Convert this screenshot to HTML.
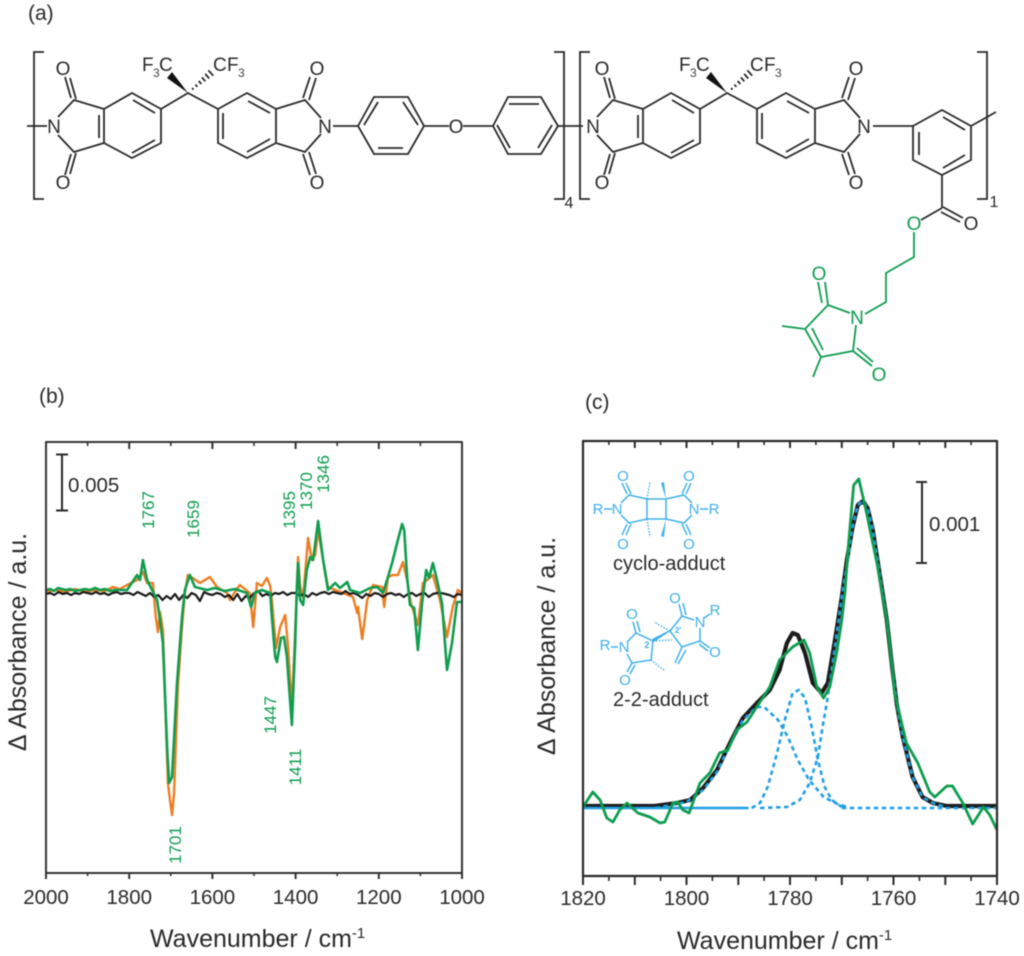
<!DOCTYPE html>
<html lang="en">
<head>
<meta charset="utf-8">
<title>Polyimide structure and difference IR spectra</title>
<style>
html,body{margin:0;padding:0;background:#fff;}
svg{display:block;font-family:"Liberation Sans",sans-serif;filter:blur(0.4px);}
.bond{fill:none;stroke:#2a2a2a;stroke-width:1.8;}
.gbond{fill:none;stroke:#0f9d4f;stroke-width:1.8;}
.bbond{fill:none;stroke:#3fb0e8;stroke-width:1.5;}
.atom{font-size:19px;fill:#2a2a2a;text-anchor:middle;}
.sub{font-size:12px;fill:#444;}
.gatom{font-size:19px;fill:#0f9d4f;text-anchor:middle;}
.batom{font-size:15px;fill:#3fb0e8;text-anchor:middle;}
.panel{font-size:21px;fill:#2a2a2a;}
.peak{font-size:17px;fill:#0f9d4f;text-anchor:middle;}
.tick-label{font-size:20.5px;fill:#2a2a2a;text-anchor:middle;}
.axis-title{font-size:25px;fill:#2a2a2a;}
.note{font-size:20px;fill:#2a2a2a;}
</style>
</head>
<body>
<svg id="figure" width="1024" height="956" viewBox="0 0 1024 956" xmlns="http://www.w3.org/2000/svg">
<rect width="1024" height="956" fill="#fff"/>

<text class="panel" x="28" y="20">(a)</text>
<text class="panel" x="39" y="403">(b)</text>
<text class="panel" x="585" y="409">(c)</text>

<g>
  <path class="bond" d="M44 52H34V199H44"/>
  <path class="bond" d="M27 126H47"/>
  <g>
    <path class="bond" d="M58 117L74 100L104 109M58 135L74 152L104 143M71 98L65 77M76 99L70 78M71 154L65 175M76 153L70 174
      M104 109L132 93L161 109V143L132 158L104 143ZM99 115V138M133 100L155 113M132 153L155 140
      M161 109L188 93L218 109M218 109L247 93L276 109V143L247 158L218 143ZM223 113V139M248 101L270 113M247 152L270 139
      M276 109L305 100L321 118M276 143L305 152L321 134M303 98L310 77M309 100L316 78M303 154L310 175M309 152L316 174"/>
    <polygon points="188,93 167,78 172,72" fill="#111"/>
    <path class="bond" stroke-width="1.2" d="M192.1 88L193.5 89.6M195.4 84.6L197.4 86.8M198.7 81L201.3 84M201.9 77.4L205.3 81.3M205.2 73.9L209.2 78.5M208.4 70.3L213.2 75.7"/>
    <text class="atom" x="63" y="75">O</text><text class="atom" x="63" y="189">O</text>
    <text class="atom" x="54" y="133">N</text>
    <text class="atom" x="317" y="75">O</text><text class="atom" x="317" y="189">O</text>
    <text class="atom" x="325" y="133">N</text>
  </g>
  <g transform="translate(539,0)">
    <path class="bond" d="M58 117L74 100L104 109M58 135L74 152L104 143M71 98L65 77M76 99L70 78M71 154L65 175M76 153L70 174
      M104 109L132 93L161 109V143L132 158L104 143ZM99 115V138M133 100L155 113M132 153L155 140
      M161 109L188 93L218 109M218 109L247 93L276 109V143L247 158L218 143ZM223 113V139M248 101L270 113M247 152L270 139
      M276 109L305 100L321 118M276 143L305 152L321 134M303 98L310 77M309 100L316 78M303 154L310 175M309 152L316 174"/>
    <polygon points="188,93 167,78 172,72" fill="#111"/>
    <path class="bond" stroke-width="1.2" d="M192.1 88L193.5 89.6M195.4 84.6L197.4 86.8M198.7 81L201.3 84M201.9 77.4L205.3 81.3M205.2 73.9L209.2 78.5M208.4 70.3L213.2 75.7"/>
    <text class="atom" x="63" y="75">O</text><text class="atom" x="63" y="189">O</text>
    <text class="atom" x="54" y="133">N</text>
    <text class="atom" x="317" y="75">O</text><text class="atom" x="317" y="189">O</text>
    <text class="atom" x="325" y="133">N</text>
  </g>
  <text class="atom" style="text-anchor:start" x="142" y="71">F</text><text class="sub" x="153" y="77">3</text><text class="atom" style="text-anchor:start" x="159" y="71">C</text>
  <text class="atom" style="text-anchor:start" x="213" y="71">C</text><text class="atom" style="text-anchor:start" x="227" y="71">F</text><text class="sub" x="238" y="77">3</text>
  <text class="atom" style="text-anchor:start" x="679" y="71">F</text><text class="sub" x="690" y="77">3</text><text class="atom" style="text-anchor:start" x="696" y="71">C</text>
  <text class="atom" style="text-anchor:start" x="750" y="71">C</text><text class="atom" style="text-anchor:start" x="764" y="71">F</text><text class="sub" x="775" y="77">3</text>

  <path class="bond" d="M333 126H358M358 126L374 97H408L424 126L408 154H374ZM364 125L378 102M403 102L418 125M378 148H403
     M424 126H449M463 126H493M493 126L508 97H541L558 126L541 154H508ZM509 104H539M497 125L510 148M552 125L538 148M558 126H583"/>
  <text class="atom" x="456" y="133">O</text>
  <path class="bond" d="M554 52H564V199H554"/>
  <text class="atom" x="569" y="208" style="font-size:16px">4</text>
  <path class="bond" d="M590 52H580V199H590"/>

  <path class="bond" d="M873 126H913M913 126L942 110L971 126V160L942 175L913 160ZM919 132V155M943 117L965 130M943 168L965 155M971 126L996 112
     M942 175V208M942 208L921 220M943 207L963 218M941 212L960 222"/>
  <path class="bond" d="M977 52H987V199H977"/>
  <text class="atom" x="994" y="207" style="font-size:16px">1</text>
  <text class="atom" x="971" y="230">O</text>

  <g>
    <path class="gbond" d="M914 232V257L886 273V302L865 314M850 313L828 305L805 329L821 357L853 351L856 325M818 282L822 303M825 282L828 305M812 328L823 350M805 329L782 326M821 357L813 377M853 351L872 366M857 348L873 362"/>
    <text class="gatom" x="914" y="230">O</text>
    <text class="gatom" x="857" y="324">N</text>
    <text class="gatom" x="819" y="280">O</text>
    <text class="gatom" x="879" y="381">O</text>
  </g>
</g>

<g id="panel-b"></g>
<g id="panel-c"></g>

<g>
  <text class="peak" transform="translate(154,510) rotate(-90)">1767</text>
  <text class="peak" transform="translate(199,519) rotate(-90)">1659</text>
  <text class="peak" transform="translate(181,845) rotate(-90)">1701</text>
  <text class="peak" transform="translate(276,715) rotate(-90)">1447</text>
  <text class="peak" transform="translate(301,767) rotate(-90)">1411</text>
  <text class="peak" transform="translate(295,510) rotate(-90)">1395</text>
  <text class="peak" transform="translate(312,491) rotate(-90)">1370</text>
  <text class="peak" transform="translate(329,474) rotate(-90)">1346</text>
</g>

<g>
  <path d="M56 454.500H68M62 454.500V510.500M56 510.500H68" fill="none" stroke="#2a2a2a" stroke-width="2"/>
  <text class="note" style="font-size:20.5px" x="68" y="492">0.005</text>
</g>
<g>
  <path d="M916 482H927M922 482V563M916 563H927" fill="none" stroke="#2a2a2a" stroke-width="2"/>
  <text class="note" style="font-size:20.5px" x="929" y="531">0.001</text>
</g>

<text class="axis-title" x="150" y="947">Wavenumber / cm<tspan font-size="15" dy="-9">-1</tspan></text>
<text class="axis-title" x="677" y="949">Wavenumber / cm<tspan font-size="15" dy="-9">-1</tspan></text>
<text class="axis-title" text-anchor="middle" transform="translate(26,642) rotate(-90)">Δ Absorbance / a.u.</text>
<text class="axis-title" text-anchor="middle" transform="translate(555,646) rotate(-90)">Δ Absorbance / a.u.</text>

<g>
  <path class="bbond" d="M647 499H666V519H647ZM647 499L629 495L621 503M647 519L629 523L621 515M627 494L622 483M631 494L626 483M627 524L622 535M631 524L626 535
    M666 499L684 495L692 503M666 519L684 523L692 515M682 494L687 483M686 494L691 483M682 524L687 535M686 524L691 535M604 509H612M700 509H708"/>
  <path class="bbond" stroke-dasharray="1.500 1.500" d="M647 499L650 482M647 519L650 537"/>
  <polygon points="666,499 661,483 664,482" fill="#3fb0e8"/>
  <polygon points="666,519 661,536 664,537" fill="#3fb0e8"/>
  <text class="batom" x="623" y="481">O</text><text class="batom" x="623" y="549">O</text>
  <text class="batom" x="689" y="481">O</text><text class="batom" x="689" y="549">O</text>
  <text class="batom" x="617" y="514">N</text><text class="batom" x="694" y="514">N</text>
  <text class="batom" x="598" y="514">R</text><text class="batom" x="714" y="514">R</text>
</g>
<text class="note" x="613" y="570">cyclo-adduct</text>

<g>
  <path class="bbond" d="M627 642L636 633L653 641L651 660L632 663L627 654M636 633L633 622M640 632L637 621M632 663L627 672M635 665L630 674M611 647H618
    M670 631L682 616L694 620M700 628V641L682 647L670 631M682 616L679 604M686 615L683 603M700 641L710 648M699 644L708 651M682 647L675 663M686 650L678 664M704 618L710 614"/>
  <path d="M653 642L671 630L653 639Z" fill="#3fb0e8" stroke="#3fb0e8" stroke-width="1"/>
  <path class="bbond" stroke-dasharray="1.500 1.500" d="M651 660L665 671M653 641L672 640M670 631L654 622"/>
  <text class="batom" x="632" y="619">O</text><text class="batom" x="625" y="685">O</text>
  <text class="batom" x="675" y="603">O</text><text class="batom" x="715" y="657">O</text>
  <text class="batom" x="624" y="652">N</text><text class="batom" x="700" y="627">N</text>
  <text class="batom" x="605" y="650">R</text><text class="batom" x="715" y="615">R</text>
  <text class="batom" style="font-size:9px;font-weight:bold" x="647" y="648">2</text>
  <text class="batom" style="font-size:8px;font-weight:bold" x="678" y="633">2'</text>
</g>
<text class="note" x="613" y="706">2-2-adduct</text>
</svg>

<script>
// Panel (b) axis data (wavenumber in cm-1; amplitudes in a.u., 56 a.u. = 0.005 scale bar)
const bMajorTicks = [2000,1800,1600,1400,1200,1000];
const bMinorTicks = [1900,1700,1500,1300,1100];

const bOrangeWn = [2000,1978,1954,1930,1906,1882,1858,1839,1822,1805,1781,1767,1757,1743,1736,1731,1726,1719,1707,1702,1697,1692,1683,1673,1666,1659,1647,1630,1618,1606,1589,1565,1558,1546,1534,1510,1502,1493,1481,1469,1461,1457,1447,1437,1425,1418,1409,1401,1394,1389,1382,1370,1361,1353,1346,1334,1322,1286,1262,1252,1250,1240,1228,1214,1192,1187,1178,1166,1154,1142,1132,1123,1106,1094,1084,1070,1053,1036,1022,1010,1000];
const bOrangeVal = [0,2,0,3,0,2,1,5,3,7,12,20,9,9,-25,-40,-20,-38,-191,-208,-223,-201,-95,-35,-1,17,14,9,12,15,5,-1,-8,0,7,-1,-35,9,6,14,6,-8,-56,-35,-23,-55,-118,-38,35,5,-5,54,32,37,62,32,5,-1,-5,-21,-15,-47,-8,7,5,-15,15,17,17,30,12,-11,-33,9,12,17,-8,-45,-15,2,-1];

const bGreenWn = [2000,1990,1981,1971,1962,1952,1942,1930,1918,1906,1894,1882,1870,1858,1846,1834,1822,1805,1781,1774,1767,1757,1745,1733,1726,1719,1709,1704,1697,1685,1673,1666,1654,1642,1613,1594,1570,1546,1517,1507,1498,1481,1461,1457,1449,1445,1435,1428,1421,1409,1401,1397,1394,1389,1382,1373,1365,1358,1346,1334,1322,1305,1293,1276,1269,1245,1221,1204,1190,1178,1168,1156,1144,1139,1132,1125,1115,1106,1096,1086,1079,1070,1060,1048,1036,1024,1012,1000];
const bGreenVal = [2,3,1,4,3,2,3,1,2,3,2,4,2,3,1,2,2,2,17,12,32,12,2,-8,-28,-51,-155,-191,-185,-91,-25,2,17,5,2,4,1,3,-1,-15,-1,2,-1,-25,-65,-70,-46,-45,-65,-133,-51,2,29,-8,-13,22,35,32,71,32,2,9,4,10,2,-1,4,5,-1,15,29,49,68,62,15,-13,-16,-58,-11,22,14,29,12,-11,-78,-51,-10,-10];

const bBlackWn = [2000,1990,1980,1970,1960,1950,1940,1930,1920,1910,1900,1890,1880,1870,1860,1850,1840,1830,1820,1810,1800,1790,1780,1770,1760,1750,1740,1730,1720,1710,1700,1690,1680,1670,1660,1650,1640,1630,1620,1610,1600,1590,1580,1570,1560,1550,1540,1530,1520,1510,1500,1490,1480,1470,1460,1450,1440,1430,1420,1410,1400,1390,1380,1370,1360,1350,1340,1330,1320,1310,1300,1290,1280,1270,1260,1250,1240,1230,1220,1210,1200,1190,1180,1170,1160,1150,1140,1130,1120,1110,1100,1090,1080,1070,1060,1050,1040,1030,1020,1010,1000];
const bBlackVal = [-2,-1,-3,0,-2,-1,-3,-1,-2,0,-1,-2,0,-2,-1,-3,-1,0,-2,-1,-1,-3,0,-2,-4,-1,-5,-3,-8,-4,-7,-2,-8,-3,-6,-1,-3,-9,0,-2,-3,-1,-2,-5,-3,-8,-2,-9,-4,-6,-1,1,-4,-2,-4,-1,-2,0,-3,-1,-1,-4,-2,-5,-1,-3,-1,0,-2,0,-1,-2,1,-2,-1,-3,-6,-2,-4,-1,-2,-5,-2,-1,-3,-2,-5,-2,-1,-4,-2,-1,-5,-2,-1,-1,-2,-3,-5,-2,-3];

// Panel (c) axis data (81 a.u. = 0.001 scale bar)
const cLabelTicks = [1820,1800,1780,1760,1740];
const cMidTicks = [1810,1790,1770,1750];
const cMinorTicks = [1815,1805,1795,1785,1775,1765,1755,1745];

const cMeasuredWn = [1820,1806.1,1801.9,1799.3,1796.8,1794.1,1791.6,1789.1,1786.4,1783.9,1782,1780.6,1779.5,1778.5,1777.1,1775.6,1773.9,1772.7,1771.4,1770,1769,1767.9,1766.9,1765.9,1765,1764,1762.7,1761.3,1760.2,1759.4,1758.2,1756.3,1754.4,1752.4,1749.7,1740];
const cMeasuredVal = [1,1,4,7,19,37,64,89,104,117,137,164,174,172,154,124,114,124,164,210,247,280,302,306,299,277,234,187,137,104,70,30,10,4,1,1];

const cGreenWn = [1820,1818.1,1816.7,1815.4,1814.2,1812.9,1811.5,1809.4,1807.1,1805.1,1804.2,1802.6,1801.7,1800.7,1799.5,1797.4,1795.5,1793.6,1792,1790.3,1788.3,1785.8,1783.9,1782,1779.5,1777.3,1776.2,1774.8,1773.5,1772.3,1771,1770,1769.4,1768.8,1767.7,1766.7,1765.2,1763.2,1761.3,1760.2,1759.8,1757.5,1755.3,1753,1752,1749.7,1748.6,1746.6,1744.7,1742.6,1741.4,1740];
const cGreenVal = [0,15,7,-11,-15,-3,4,-6,-10,-16,-15,4,5,-3,-6,24,34,54,57,77,85,105,120,147,160,167,154,120,109,120,154,187,214,257,322,328,294,244,187,137,114,64,44,15,10,21,21,4,-17,0,-8,-23];

const cBaselineWn = [1820,1788];
const cBaselineVal = [-1,-1];

const cTailWn = [1770,1740];
const cTailVal = [-1,-1];

const cBandOneWn = [1806,1800,1796.8,1794.1,1791.6,1789.1,1786.4,1785,1782.3,1780.4,1778.5,1776.3,1773.5,1770.8,1768.9];
const cBandOneVal = [-1,5,17,35,62,87,100,100,87,70,47,27,10,3,0];

const cBandTwoWn = [1787.4,1785.8,1784.3,1782.5,1781,1779.5,1778.3,1777.1,1775.8,1774.6,1773.3,1771.9,1770];
const cBandTwoVal = [-1,4,20,54,87,114,117,109,80,47,20,7,0];

const cBandThreeWn = [1785.8,1780.6,1778.1,1776.2,1774.6,1773.7,1772.7,1771.4,1770,1767.9,1766.9,1765.9,1765,1764,1762.7,1761.3,1760.2,1759.4,1758.2,1756.3,1754.4,1752.4,1750];
const cBandThreeVal = [-1,0,7,24,50,80,110,157,210,280,302,306,299,277,234,187,137,104,70,30,10,4,0];

// Axis functions
function xB(wn){ return 46 + (2000 - wn) * 0.416; }
function yB(v){ return 592 - v; }
function xC(wn){ return 583 + (1820 - wn) * 5.175; }
function yC(v){ return 807 - v; }

const SVGNS = 'http://www.w3.org/2000/svg';
const panelB = document.getElementById('panel-b');
const panelC = document.getElementById('panel-c');

function pathFrom(wn, val, fx, fy){
  let d = '';
  for (let i = 0; i < wn.length; i++) {
    d += (i ? 'L' : 'M') + fx(wn[i]).toFixed(1) + ' ' + fy(val[i]).toFixed(1);
  }
  return d;
}
function makePath(parent, d, stroke, width, dash){
  const p = document.createElementNS(SVGNS, 'path');
  p.setAttribute('d', d);
  p.setAttribute('fill', 'none');
  p.setAttribute('stroke', stroke);
  p.setAttribute('stroke-width', width);
  p.setAttribute('stroke-linejoin', 'round');
  if (dash) p.setAttribute('stroke-dasharray', dash);
  parent.appendChild(p);
  return p;
}
function tickPath(ticks, fx, top, bottom, lenTop, lenBottom){
  let d = '';
  ticks.forEach(function(t){
    const x = fx(t).toFixed(1);
    d += 'M' + x + ' ' + top + 'V' + (top + lenTop) + 'M' + x + ' ' + bottom + 'V' + (bottom + lenBottom);
  });
  return d;
}
function tickLabels(parent, ticks, fx, y){
  ticks.forEach(function(t){
    const el = document.createElementNS(SVGNS, 'text');
    el.setAttribute('class', 'tick-label');
    el.setAttribute('x', fx(t));
    el.setAttribute('y', y);
    el.textContent = String(t);
    
    
    parent.appendChild(el);
  });
}

// Panel (b)
let el;
el = makePath(panelB, pathFrom(bOrangeWn, bOrangeVal, xB, yB), '#ee7d22', 2.4);


el = makePath(panelB, pathFrom(bBlackWn, bBlackVal, xB, yB), '#1c1c1c', 2.2);


el = makePath(panelB, pathFrom(bGreenWn, bGreenVal, xB, yB), '#0f9d4f', 2.6);


el = makePath(panelB, 'M' + xB(2000) + ' 442H' + xB(1000) + 'V873H' + xB(2000) + 'Z', '#333', 2);


el = makePath(panelB, tickPath(bMajorTicks, xB, 442, 873, 7, 6), '#333', 2);


el = makePath(panelB, tickPath(bMinorTicks, xB, 442, 873, 4, 3), '#333', 1.6);


tickLabels(panelB, bMajorTicks, xB, 904);

// Panel (c)
el = makePath(panelC, pathFrom(cMeasuredWn, cMeasuredVal, xC, yC), '#1c1c1c', 4.2);


el = makePath(panelC, pathFrom(cBaselineWn, cBaselineVal, xC, yC), '#1f9fe3', 2.6);


el = makePath(panelC, pathFrom(cTailWn, cTailVal, xC, yC), '#1f9fe3', 2.6, '4.5 3.5');


el = makePath(panelC, pathFrom(cBandOneWn, cBandOneVal, xC, yC), '#1f9fe3', 2.6, '4.5 3.5');


el = makePath(panelC, pathFrom(cBandTwoWn, cBandTwoVal, xC, yC), '#1f9fe3', 2.6, '4.5 3.5');


el = makePath(panelC, pathFrom(cBandThreeWn, cBandThreeVal, xC, yC), '#1f9fe3', 2.6, '4.5 3.5');


el = makePath(panelC, pathFrom(cGreenWn, cGreenVal, xC, yC), '#0f9d4f', 2.8);


el = makePath(panelC, 'M' + xC(1820) + ' 441H' + xC(1740) + 'V876H' + xC(1820) + 'Z', '#2a2a2a', 2.2);


el = makePath(panelC, tickPath(cLabelTicks.concat(cMidTicks), xC, 441, 876, 7, 9), '#2a2a2a', 2);


el = makePath(panelC, tickPath(cMinorTicks, xC, 441, 876, 4, 5), '#2a2a2a', 1.6);


tickLabels(panelC, cLabelTicks, xC, 905);
</script>
</body>
</html>
